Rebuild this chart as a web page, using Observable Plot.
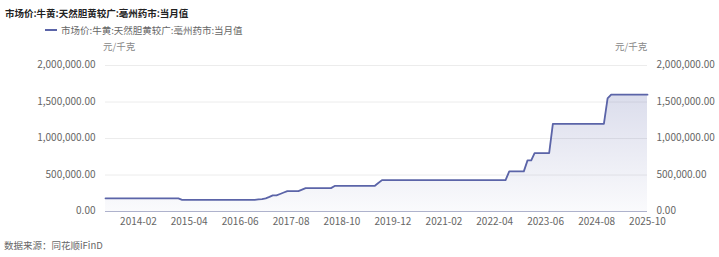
<!DOCTYPE html>
<html>
<head>
<meta charset="utf-8">
<script src="https://cdn.jsdelivr.net/npm/d3@7"></script>
<script src="https://cdn.jsdelivr.net/npm/@observablehq/plot@0.6"></script>
<style>
  html, body { margin: 0; padding: 0; background: #fff; }
  #wrap { position: relative; width: 719px; height: 257px; overflow: hidden;
    font-family: "Noto Sans CJK SC", "Noto Sans", sans-serif; }
  .abs { position: absolute; white-space: nowrap; line-height: 1; }
  #title { left: 5px; top: 9px; font-size: 9.5px; font-weight: bold; color: #222; }
  #legend { left: 45px; top: 26px; font-size: 9.5px; color: #666; }
  #legend .sw { display: inline-block; width: 12px; height: 2px; background: #5b64a8; vertical-align: middle; margin-right: 4px; position: relative; top: -1px; }
  .unit { font-size: 9.5px; color: #888; top: 42px; }
  #footer { left: 4px; top: 241px; font-size: 9.5px; color: #666; }
  #chart { position: absolute; left: 0; top: 40px; }
</style>
</head>
<body>
<div id="wrap">
  <div id="title" class="abs">市场价:牛黄:天然胆黄较广:亳州药市:当月值</div>
  <div id="legend" class="abs"><span class="sw"></span>市场价:牛黄:天然胆黄较广:亳州药市:当月值</div>
  <div class="abs unit" style="left:103px">元/千克</div>
  <div class="abs unit" style="left:615px">元/千克</div>
  <div id="chart"></div>
  <div id="footer" class="abs">数据来源：同花顺iFinD</div>
</div>
<script>
const seriesName = "市场价:牛黄:天然胆黄较广:亳州药市:当月值";
const dates = ["2013-05","2015-01","2015-02","2016-10","2016-11","2016-12","2017-01","2017-02","2017-03","2017-04","2017-05","2017-06","2017-07","2017-10","2017-11","2017-12","2018-07","2018-08","2019-07","2019-08","2019-09","2022-07","2022-08","2022-12","2023-01","2023-02","2023-03","2023-07","2023-08","2024-10","2024-11","2024-12","2025-10"];
const values = [180000,180000,160000,160000,165000,170000,180000,200000,220000,220000,240000,260000,280000,280000,300000,320000,320000,350000,350000,390000,430000,430000,550000,550000,700000,700000,800000,800000,1200000,1200000,1550000,1600000,1600000];
const xTickLabels = ["2014-02","2015-04","2016-06","2017-08","2018-10","2019-12","2021-02","2022-04","2023-06","2024-08","2025-10"];
const yTicks = [0, 500000, 1000000, 1500000, 2000000];

const parse = d3.utcParse("%Y-%m");
const data = dates.map((d, i) => ({date: parse(d), value: values[i]}));
const xTicks = xTickLabels.map(parse);
const fmtY = d3.format(",.2f");
const fmtX = d3.utcFormat("%Y-%m");
const lineColor = "#5b64a8";

const chart = Plot.plot({
  width: 719,
  height: 190,
  marginTop: 25,
  marginBottom: 19,
  marginLeft: 105,
  marginRight: 72,
  style: {fontFamily: "'Noto Sans CJK SC', 'Noto Sans', sans-serif", fontSize: "10px", color: "#666", background: "transparent"},
  x: {type: "utc", domain: [parse(dates[0]), parse(dates[dates.length - 1])]},
  y: {domain: [0, 2000000]},
  marks: [
    Plot.gridY(yTicks, {stroke: "#ececec", strokeOpacity: 1}),
    Plot.areaY(data, {x: "date", y: "value", fill: "url(#areaGrad)"}),
    Plot.ruleY([0], {stroke: "#aeb2cc", strokeWidth: 1}),
    Plot.lineY(data, {x: "date", y: "value", stroke: lineColor, strokeWidth: 1.8}),
    Plot.axisY(yTicks, {anchor: "left", tickSize: 0, tickPadding: 10, tickFormat: fmtY, label: null, dy: -0.5}),
    Plot.axisY(yTicks, {anchor: "right", tickSize: 0, tickPadding: 9, tickFormat: fmtY, label: null, dy: -0.5}),
    Plot.axisX(xTicks, {tickSize: 0, tickPadding: 6, tickFormat: fmtX, label: null})
  ]
});

const svg = d3.select(chart);
const defs = svg.insert("defs", ":first-child");
const grad = defs.append("linearGradient").attr("id", "areaGrad")
  .attr("x1", 0).attr("y1", 0).attr("x2", 0).attr("y2", 1);
grad.append("stop").attr("offset", "0%").attr("stop-color", "#5b64a8").attr("stop-opacity", 0.22);
grad.append("stop").attr("offset", "100%").attr("stop-color", "#5b64a8").attr("stop-opacity", 0.03);

document.getElementById("chart").appendChild(chart);
</script>
</body>
</html>
